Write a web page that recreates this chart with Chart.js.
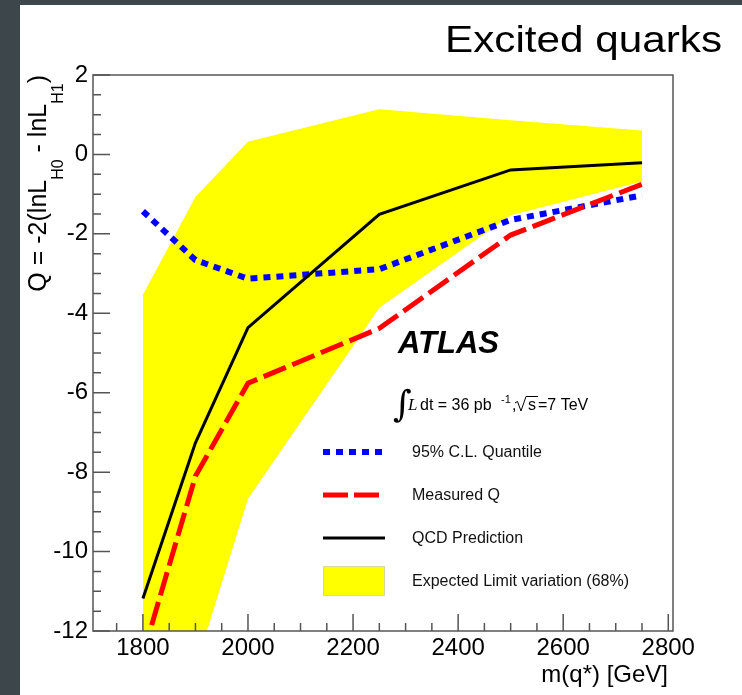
<!DOCTYPE html>
<html>
<head>
<meta charset="utf-8">
<script src="https://cdn.jsdelivr.net/npm/chart.js@4.4.1/dist/chart.umd.min.js"></script>
<style>
  html, body { margin: 0; padding: 0; background: #3d464b; }
  #wrap { position: absolute; left: 20px; top: 5px; width: 722px; height: 690px; background: #fff; }
  canvas { display: block; }
</style>
</head>
<body>
<div id="wrap"><canvas id="qChart" width="722" height="690"></canvas></div>
<script>
// values
const masses = [1800, 1900, 2000, 2250, 2500, 2750];
const quantile95 = [-1.43, -2.66, -3.13, -2.89, -1.65, -1.03];
const measuredQ = [-12.6, -8.1, -5.76, -4.38, -2.03, -0.75];
const qcdPrediction = [-11.18, -7.26, -4.36, -1.51, -0.39, -0.21];
const bandUpper = [-3.54, -1.07, 0.32, 1.14, 0.86, 0.60];
const bandLower = [-15.0, -12.93, -8.67, -3.86, -1.53, -0.68];
const xTickValues = [1800, 2000, 2200, 2400, 2600, 2800];
const yTickValues = [2, 0, -2, -4, -6, -8, -10, -12];

const FONT = '"Liberation Sans", Arial, Helvetica, sans-serif';

const pts = ys => masses.map((m, i) => ({x: m, y: ys[i]}));

const datasets = [
  {label: 'QCD Prediction', data: pts(qcdPrediction), borderColor: '#000', borderWidth: 3, order: 0},
  {label: 'Measured Q', data: pts(measuredQ), borderColor: '#ff0000', borderWidth: 5, borderDash: [24, 7], order: 1},
  {label: '95% C.L. Quantile', data: pts(quantile95), borderColor: '#0000ff', borderWidth: 6, borderDash: [7, 6], order: 2},
  {label: 'Expected Limit variation (68%)', data: pts(bandUpper), borderColor: 'rgba(0,0,0,0)', borderWidth: 0,
   backgroundColor: '#ffff00', fill: '+1', order: 3},
  {label: 'band lower', data: pts(bandLower), borderColor: 'rgba(0,0,0,0)', borderWidth: 0, fill: false, order: 4}
];
datasets.forEach(d => { d.pointRadius = 0; d.tension = 0; d.clip = 0; });

// frame, inward ticks, titles, ATLAS label and legend
const atlasDecor = {
  id: 'atlasDecor',
  afterDraw(chart) {
    const {ctx, chartArea: a, scales: {x, y}} = chart;
    const ds = chart.data.datasets;
    ctx.save();

    ctx.strokeStyle = '#555';
    ctx.lineWidth = 1.5;
    ctx.strokeRect(a.left, a.top, a.right - a.left, a.bottom - a.top);
    ctx.beginPath();
    for (let v = 1750; v <= 2800; v += 50) {
      const px = x.getPixelForValue(v);
      const len = v % 200 === 0 ? 17 : 8;
      ctx.moveTo(px, a.bottom); ctx.lineTo(px, a.bottom - len);
    }
    for (let v = -12; v <= 2; v += 0.5) {
      const py = y.getPixelForValue(v);
      const len = v % 2 === 0 ? 17 : 8;
      ctx.moveTo(a.left, py); ctx.lineTo(a.left + len, py);
    }
    ctx.stroke();

    ctx.fillStyle = '#000';
    ctx.textBaseline = 'alphabetic';

    // title
    ctx.font = '37px ' + FONT;
    const tw = ctx.measureText('Excited quarks').width;
    ctx.save();
    ctx.translate(702, 47);
    ctx.scale(277 / tw, 1);
    ctx.textAlign = 'right';
    ctx.fillText('Excited quarks', 0, 0);
    ctx.restore();

    // x axis title
    ctx.font = '24px ' + FONT;
    ctx.textAlign = 'right';
    ctx.fillText('m(q*) [GeV]', 648, 677);

    // y axis title with subscripts
    const main = '25px ' + FONT, sub = '16px ' + FONT;
    const parts = [['Q = -2(lnL', main, 0], ['H0', sub, 17], [' - lnL', main, 0], ['H1', sub, 17], [')', main, 0]];
    let total = 0;
    parts.forEach(p => { ctx.font = p[1]; total += ctx.measureText(p[0]).width; });
    ctx.save();
    ctx.translate(26, 70 + total);
    ctx.rotate(-Math.PI / 2);
    ctx.textAlign = 'left';
    let cx = 0;
    parts.forEach(p => {
      ctx.font = p[1];
      ctx.fillText(p[0], cx, p[2]);
      cx += ctx.measureText(p[0]).width;
    });
    ctx.restore();

    // ATLAS
    ctx.textAlign = 'left';
    ctx.font = 'italic bold 31px ' + FONT;
    ctx.fillText('ATLAS', 378, 348);

    // luminosity label
    ctx.font = '36px "DejaVu Serif"';
    ctx.fillText('\u222B', 373, 411);
    ctx.font = 'italic 17px "Liberation Serif"';
    ctx.fillText('L', 388, 405);
    ctx.font = '16px ' + FONT;
    ctx.fillText('dt = 36 pb', 400, 405);
    ctx.font = '11px ' + FONT;
    ctx.fillText('-1', 481, 398);
    ctx.font = '16px ' + FONT;
    ctx.fillText(',', 492, 405);
    ctx.lineWidth = 1;
    ctx.strokeStyle = '#000';
    ctx.beginPath();
    ctx.moveTo(495, 398); ctx.lineTo(497.5, 396.5); ctx.lineTo(501, 406); ctx.lineTo(506, 391.5); ctx.lineTo(518, 391.5);
    ctx.stroke();
    ctx.fillText('s', 508, 405);
    ctx.fillText('=7 TeV', 518, 405);

    // legend
    const entries = [[2, 447], [1, 490], [0, 533], [3, 576]];
    ctx.textBaseline = 'middle';
    entries.forEach(([i, ly]) => {
      const d = ds[i];
      if (d.fill) {
        ctx.fillStyle = d.backgroundColor;
        ctx.fillRect(303, 561, 62, 30);
        ctx.strokeStyle = '#d8d8a0';
        ctx.lineWidth = 1;
        ctx.strokeRect(303.5, 561.5, 61, 29);
      } else {
        ctx.strokeStyle = d.borderColor;
        ctx.lineWidth = d.borderWidth;
        ctx.setLineDash(i === 1 ? [25, 6] : (d.borderDash || []));
        ctx.beginPath();
        ctx.moveTo(303, ly); ctx.lineTo(i === 0 ? 365 : 362, ly);
        ctx.stroke();
        ctx.setLineDash([]);
      }
      ctx.fillStyle = '#111';
      ctx.font = '16px ' + FONT;
      ctx.fillText(d.label, 392, ly + 1);
    });
    ctx.restore();
  }
};

new Chart(document.getElementById('qChart'), {
  type: 'line',
  data: {datasets: datasets},
  options: {
    responsive: false,
    animation: false,
    layout: {padding: {top: 70, right: 69, left: 0, bottom: 0}},
    plugins: {legend: {display: false}, tooltip: {enabled: false}},
    scales: {
      x: {
        type: 'linear', min: 1705, max: 2809,
        grid: {display: false, drawTicks: false},
        border: {display: false},
        ticks: {font: {family: FONT, size: 24}, color: '#000', padding: 3, maxRotation: 0, autoSkip: false,
                callback: v => String(v)},
        afterBuildTicks: s => { s.ticks = xTickValues.map(v => ({value: v})); },
        afterFit: s => { s.height = 64; }
      },
      y: {
        type: 'linear', min: -12, max: 2,
        grid: {display: false, drawTicks: false},
        border: {display: false},
        ticks: {font: {family: FONT, size: 24}, color: '#000', padding: 5, autoSkip: false,
                callback: v => String(v)},
        afterBuildTicks: s => { s.ticks = yTickValues.map(v => ({value: v})); },
        afterFit: s => { s.width = 73; }
      }
    }
  },
  plugins: [atlasDecor]
});
</script>
</body>
</html>
